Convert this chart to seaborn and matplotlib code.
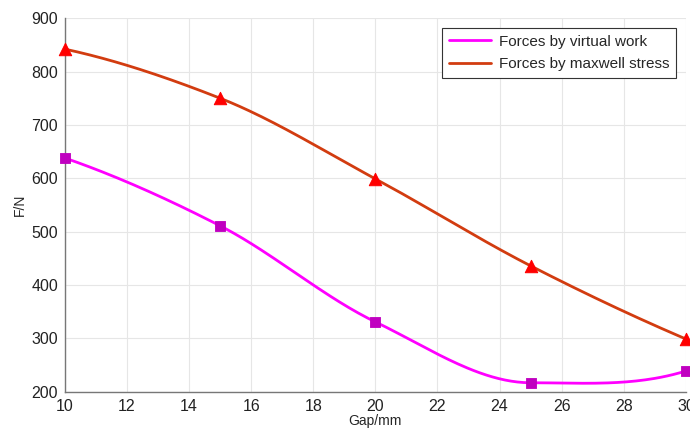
import numpy as np
import pandas as pd
import seaborn as sns
import matplotlib
matplotlib.use("Agg")
import matplotlib.pyplot as plt

# values
gap = [10, 15, 20, 25, 30]
virtual_work = [638, 511, 331, 217, 239]
maxwell_stress = [842, 750, 599, 436, 299]


def pchip(x, y, n=200):
    # shape preserving cubic through the points, for drawing the smooth line
    x = np.asarray(x, float)
    y = np.asarray(y, float)
    h = np.diff(x)
    delta = np.diff(y) / h
    d = np.zeros_like(y)
    for k in range(1, len(x) - 1):
        if delta[k - 1] * delta[k] > 0:
            w1 = 2 * h[k] + h[k - 1]
            w2 = h[k] + 2 * h[k - 1]
            d[k] = (w1 + w2) / (w1 / delta[k - 1] + w2 / delta[k])
    d[0] = ((2 * h[0] + h[1]) * delta[0] - h[0] * delta[1]) / (h[0] + h[1])
    if np.sign(d[0]) != np.sign(delta[0]):
        d[0] = 0
    d[-1] = ((2 * h[-1] + h[-2]) * delta[-1] - h[-1] * delta[-2]) / (h[-1] + h[-2])
    if np.sign(d[-1]) != np.sign(delta[-1]):
        d[-1] = 0
    xs = np.linspace(x[0], x[-1], n)
    idx = np.clip(np.searchsorted(x, xs) - 1, 0, len(x) - 2)
    t = (xs - x[idx]) / h[idx]
    h00 = 2 * t**3 - 3 * t**2 + 1
    h10 = t**3 - 2 * t**2 + t
    h01 = -2 * t**3 + 3 * t**2
    h11 = t**3 - t**2
    ys = h00 * y[idx] + h10 * h[idx] * d[idx] + h01 * y[idx + 1] + h11 * h[idx] * d[idx + 1]
    return xs, ys


sns.set_style("white")
plt.rcParams['font.family'] = ['Liberation Sans', 'DejaVu Sans']

fig = plt.figure(figsize=(6.9, 4.32), dpi=100)
ax = fig.add_axes([0.094, 0.093, 0.9, 0.865])

pts = pd.DataFrame({'gap': gap, 'vw': virtual_work, 'ms': maxwell_stress})

xs, ys = pchip(gap, virtual_work)
sns.lineplot(x=xs, y=ys, ax=ax, color='#ff00ff', lw=2, label='Forces by virtual work')
xs, ys = pchip(gap, maxwell_stress)
sns.lineplot(x=xs, y=ys, ax=ax, color='#d23c10', lw=2, label='Forces by maxwell stress')

sns.scatterplot(data=pts, x='gap', y='vw', ax=ax, marker='s', s=60,
                color='#c000c0', edgecolor='#c000c0', zorder=5, legend=False, clip_on=False)
sns.scatterplot(data=pts, x='gap', y='ms', ax=ax, marker='^', s=80,
                color='#ff0000', edgecolor='#ff0000', zorder=5, legend=False, clip_on=False)

ax.set_xlim(10, 30)
ax.set_ylim(200, 900)
ax.set_xticks(range(10, 31, 2))
ax.set_yticks(range(200, 901, 100))
ax.grid(True, color='#e6e6e6', lw=0.8)
ax.tick_params(direction='in', length=4, color='#555555', labelsize=11.5,
               labelcolor='#222222', pad=5)
for s in ['top', 'right']:
    ax.spines[s].set_visible(False)
for s in ['left', 'bottom']:
    ax.spines[s].set_color('#777777')
    ax.spines[s].set_linewidth(1)

ax.set_xlabel('Gap/mm', fontsize=10, labelpad=0)
ax.set_ylabel('F/N', fontsize=10, labelpad=3)

leg = ax.legend(loc='upper right', bbox_to_anchor=(0.997, 0.995), fontsize=11,
                frameon=True, fancybox=False, edgecolor='#333333', framealpha=1,
                handlelength=2.8, handletextpad=0.5, borderpad=0.45, labelspacing=0.55)
leg.get_frame().set_linewidth(0.8)

fig.savefig('out.png', dpi=100)
